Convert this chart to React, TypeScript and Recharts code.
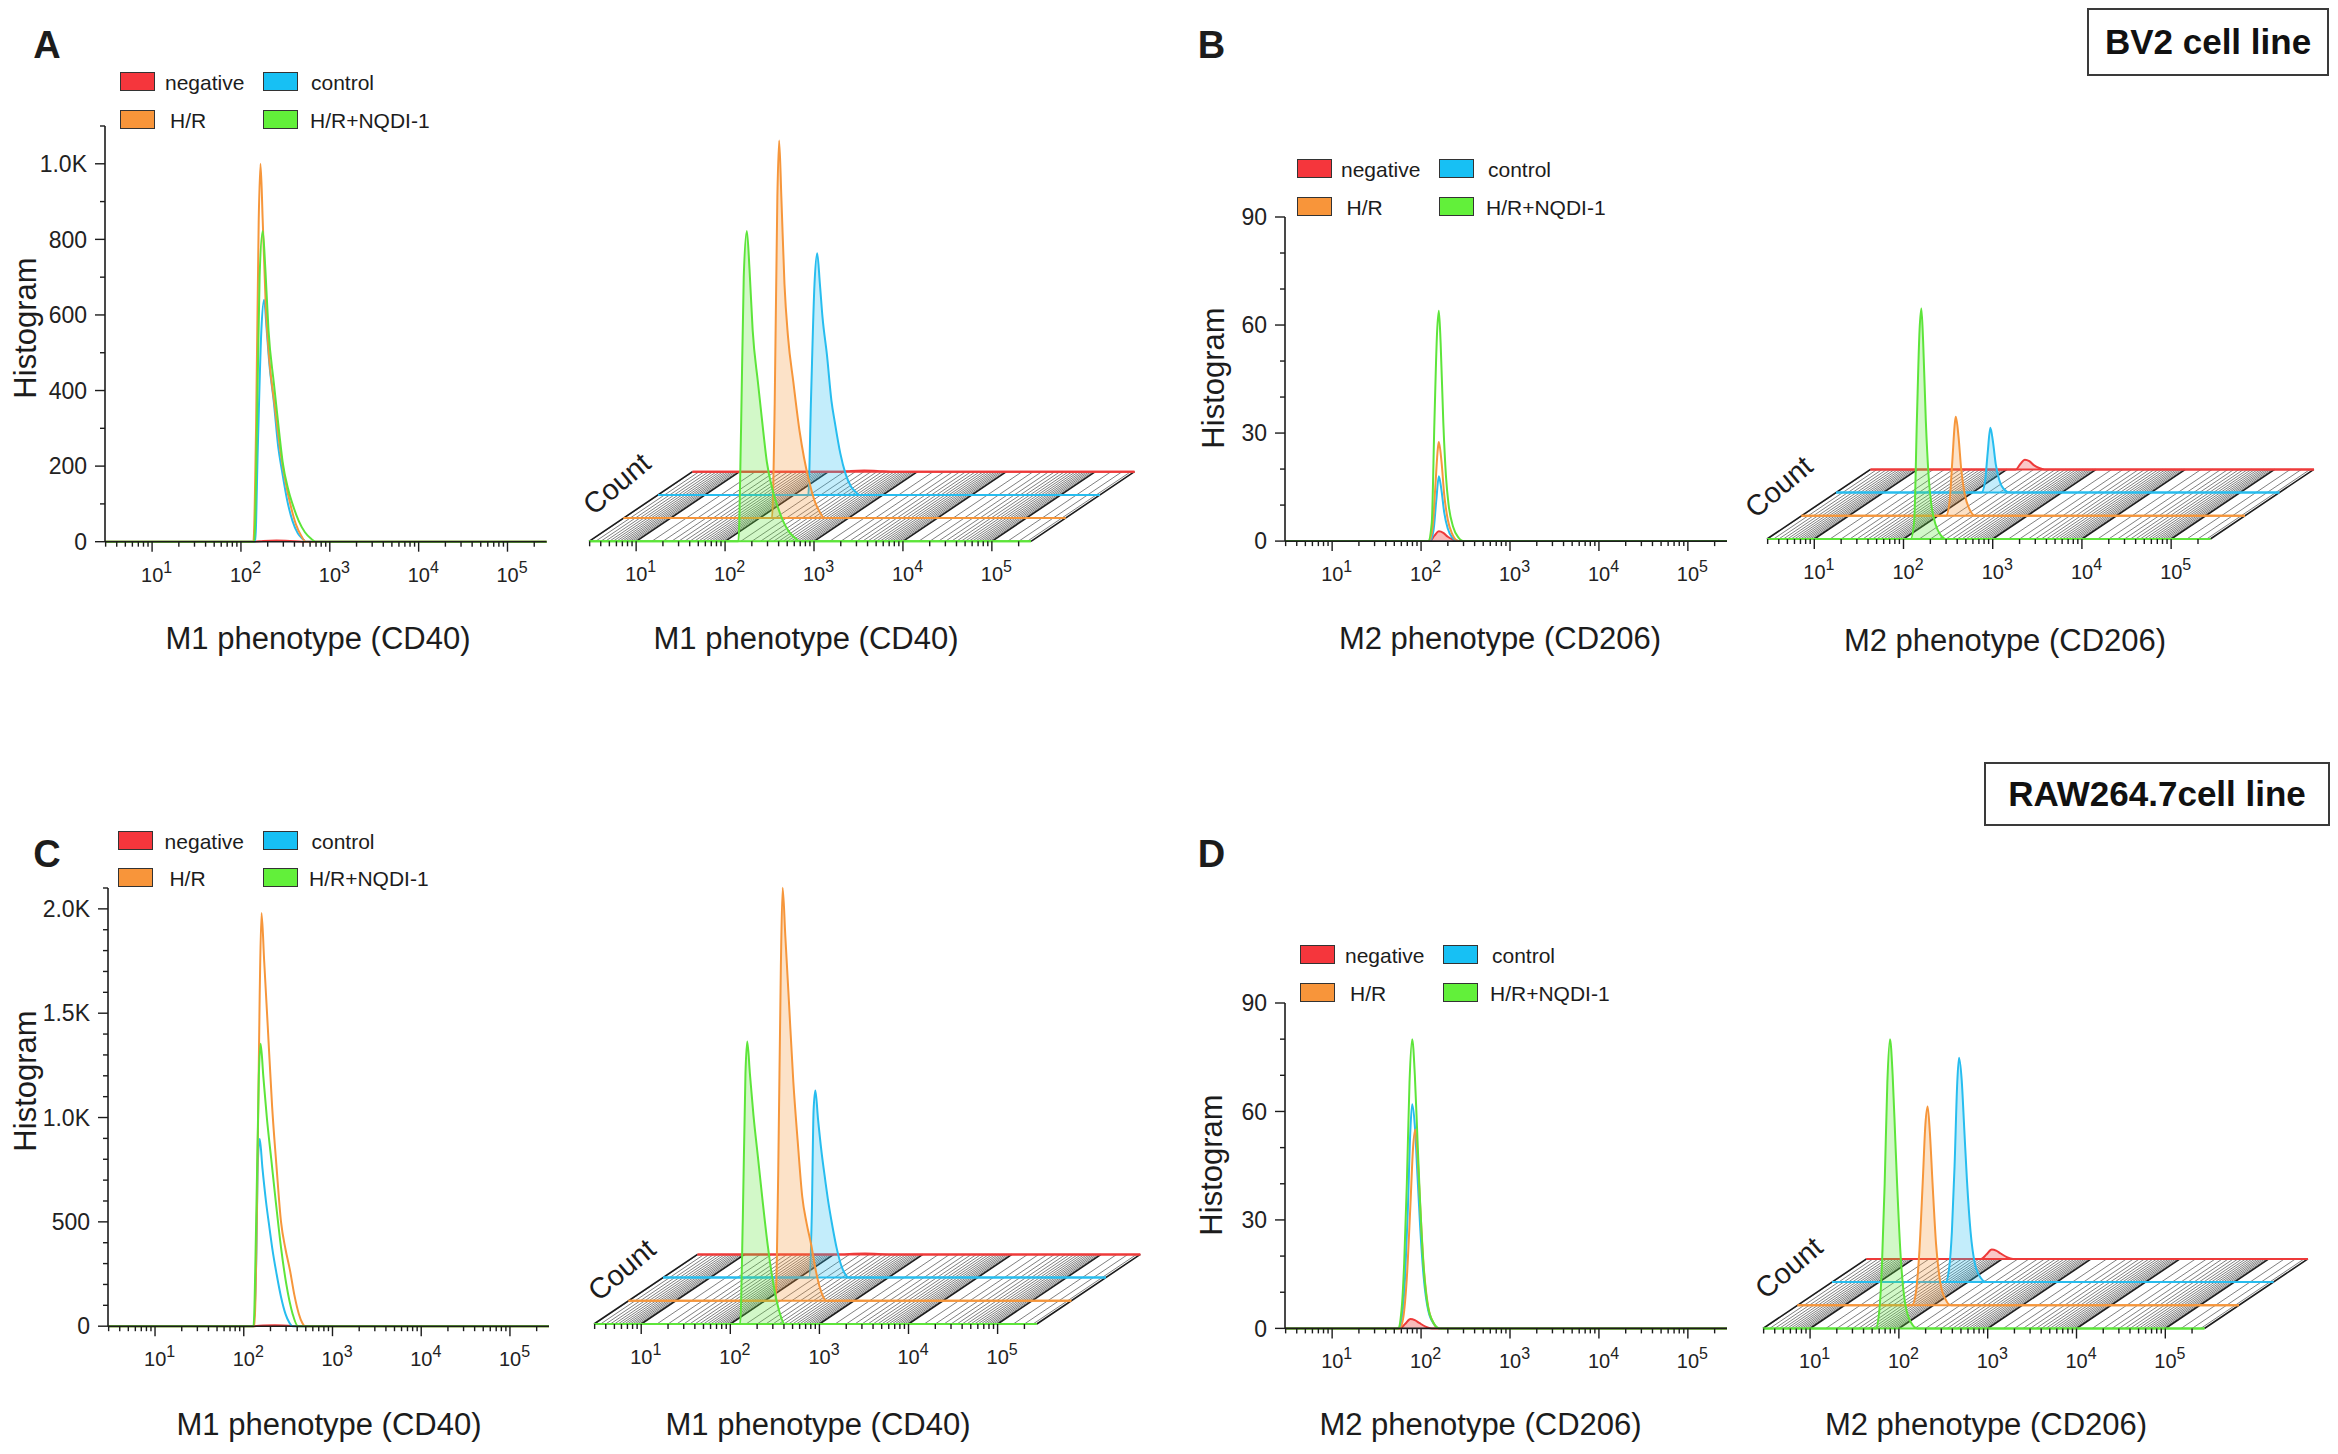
import React from "react";
import { ComposedChart, Area, XAxis, YAxis } from "recharts";

const FONT = "'Liberation Sans', Arial, Helvetica, sans-serif";
const INK = "#1c1c1c";

// fluorescence axis in log10 units (10^0.47 .. 10^5.44)
const LOG_MIN = 0.47;
const LOG_MAX = 5.44;

const SERIES_NAMES = ["negative", "control", "H/R", "H/R+NQDI-1"];
const SERIES_COLORS = ["#EE3A3A", "#27BDEF", "#F6963B", "#5DE53A"];
const SWATCH_COLORS = ["#F5363C", "#17C0F4", "#F8953A", "#62F03A"];
// depth in the offset view: negative at the back, H/R+NQDI-1 in front
const DEPTH_OF = [3, 2, 1, 0];
const DEPTH_X = 34.5; // px per depth step
const DEPTH_Y = 23.2;

// ---- A: BV2, M1 (CD40) ---- [log10 intensity, count]
const A_NEGATIVE = [[2.15, 0], [2.25, 2], [2.4, 3], [2.55, 2], [2.7, 0]];
const A_CONTROL = [[2.16, 0], [2.19, 250], [2.23, 560], [2.26, 640], [2.29, 560], [2.32, 470], [2.37, 370], [2.42, 250], [2.46, 190], [2.52, 110], [2.58, 55], [2.64, 22], [2.7, 6], [2.73, 0]];
const A_HR = [[2.14, 0], [2.17, 300], [2.2, 850], [2.22, 1000], [2.245, 850], [2.28, 620], [2.32, 480], [2.38, 360], [2.45, 230], [2.5, 160], [2.56, 95], [2.62, 45], [2.68, 15], [2.73, 0]];
const A_NQDI = [[2.15, 0], [2.18, 300], [2.21, 700], [2.245, 822], [2.275, 720], [2.31, 560], [2.37, 420], [2.43, 290], [2.47, 210], [2.53, 140], [2.58, 100], [2.65, 55], [2.72, 25], [2.79, 8], [2.84, 0]];
const A_Y_TICKS = [0, 200, 400, 600, 800, 1000];
const A_Y_LABELS = ["0", "200", "400", "600", "800", "1.0K"];

// ---- B: BV2, M2 (CD206) ----
const B_NEGATIVE = [[2.1, 0], [2.15, 1.5], [2.2, 2.7], [2.25, 2.3], [2.3, 1.2], [2.36, 0.4], [2.42, 0]];
const B_CONTROL = [[2.1, 0], [2.14, 3], [2.17, 11], [2.2, 18], [2.23, 14], [2.26, 8], [2.3, 3.5], [2.35, 1], [2.42, 0]];
const B_HR = [[2.09, 0], [2.13, 4], [2.16, 15], [2.19, 26], [2.2, 27.5], [2.23, 22], [2.26, 13], [2.3, 6], [2.35, 2], [2.42, 0]];
const B_NQDI = [[2.08, 0], [2.12, 5], [2.15, 33], [2.18, 58], [2.2, 64], [2.22, 55], [2.25, 33], [2.28, 18], [2.31, 10], [2.36, 4], [2.42, 1], [2.47, 0]];
const B_Y_TICKS = [0, 30, 60, 90];
const B_Y_LABELS = ["0", "30", "60", "90"];

// ---- C: RAW264.7, M1 (CD40) ----
const C_NEGATIVE = [[2.12, 0], [2.22, 3], [2.35, 4], [2.5, 2], [2.65, 0]];
const C_CONTROL = [[2.11, 0], [2.14, 300], [2.16, 800], [2.18, 897], [2.21, 760], [2.25, 600], [2.29, 470], [2.32, 377], [2.37, 250], [2.42, 140], [2.47, 59], [2.51, 20], [2.55, 0]];
const C_HR = [[2.12, 0], [2.15, 600], [2.18, 1600], [2.2, 1980], [2.23, 1750], [2.27, 1440], [2.32, 1050], [2.37, 760], [2.42, 500], [2.47, 370], [2.52, 270], [2.57, 150], [2.62, 60], [2.66, 15], [2.69, 0]];
const C_NQDI = [[2.11, 0], [2.14, 500], [2.17, 1200], [2.19, 1354], [2.22, 1200], [2.26, 1000], [2.31, 800], [2.36, 600], [2.42, 377], [2.48, 200], [2.55, 60], [2.61, 0]];
const C_Y_TICKS = [0, 500, 1000, 1500, 2000];
const C_Y_LABELS = ["0", "500", "1.0K", "1.5K", "2.0K"];

// ---- D: RAW264.7, M2 (CD206) ----
const D_NEGATIVE = [[1.76, 0], [1.82, 1.2], [1.88, 2.6], [1.93, 2.3], [1.98, 1.5], [2.05, 0.5], [2.12, 0]];
const D_CONTROL = [[1.75, 0], [1.79, 4], [1.82, 14], [1.85, 32], [1.88, 55], [1.9, 62], [1.93, 56], [1.96, 42], [1.99, 28], [2.03, 14], [2.08, 5], [2.15, 1], [2.2, 0]];
const D_HR = [[1.76, 0], [1.8, 3], [1.84, 14], [1.88, 34], [1.91, 50], [1.935, 55], [1.96, 48], [1.99, 34], [2.03, 17], [2.08, 6], [2.14, 1.5], [2.2, 0]];
const D_NQDI = [[1.74, 0], [1.78, 5], [1.81, 18], [1.84, 40], [1.87, 68], [1.9, 80], [1.93, 70], [1.96, 52], [1.98, 40], [2.02, 20], [2.07, 7], [2.14, 1.5], [2.21, 0]];
const D_Y_TICKS = [0, 30, 60, 90];
const D_Y_LABELS = ["0", "30", "60", "90"];

// log axis ticks: 1..9 x 10^n
const X_TICKS: number[] = [];
for (let n = 0; n <= 5; n++) {
  for (let k = 1; k <= 9; k++) {
    const v = Math.log10(k * Math.pow(10, n));
    if (v >= LOG_MIN && v <= LOG_MAX) X_TICKS.push(v);
  }
}
// floor hatch of the offset view
const HATCH_MINOR: number[] = [];
const HATCH_MAJOR: number[] = [LOG_MIN, LOG_MAX];
for (let n = 0; n <= 5; n++) {
  for (let k = 1; k < 10; k += 0.5) {
    const v = Math.log10(k * Math.pow(10, n));
    if (v < LOG_MIN || v > LOG_MAX) continue;
    if (k === 1) HATCH_MAJOR.push(v);
    else HATCH_MINOR.push(v);
  }
}

type Panel = {
  letter: string;
  letterPos: [number, number];
  series: number[][][];
  yMax: number;
  yStep: number;
  yTicks: number[];
  yLabels: string[];
  xLabel: string;
  plot2d: { x: number; y: number; w: number; h: number };
  plot3d: { x0: number; x1: number; top: number; base: number };
  histPos: [number, number];
  label2d: [number, number];
  label3d: [number, number];
  countPos: [number, number];
  legend: { cols: [number, number]; rows: [number, number]; text: [[number, number], [number, number]] };
};

const PANELS: Panel[] = [
  {
    letter: "A", letterPos: [47, 45],
    series: [A_NEGATIVE, A_CONTROL, A_HR, A_NQDI],
    yMax: 1100, yStep: 100, yTicks: A_Y_TICKS, yLabels: A_Y_LABELS,
    xLabel: "M1 phenotype (CD40)",
    plot2d: { x: 105.4, y: 126, w: 441.6, h: 415.7 },
    plot3d: { x0: 588.7, x1: 1030.7, top: 125.7, base: 541 },
    histPos: [25, 328], label2d: [318, 638], label3d: [806, 638], countPos: [617, 484],
    legend: { cols: [119.5, 263], rows: [72.4, 110], text: [[165, 311], [170, 310]] },
  },
  {
    letter: "B", letterPos: [1211.5, 45],
    series: [B_NEGATIVE, B_CONTROL, B_HR, B_NQDI],
    yMax: 90, yStep: 10, yTicks: B_Y_TICKS, yLabels: B_Y_LABELS,
    xLabel: "M2 phenotype (CD206)",
    plot2d: { x: 1285, y: 216.7, w: 442, h: 324.1 },
    plot3d: { x0: 1767.3, x1: 2210.7, top: 214.7, base: 538.7 },
    histPos: [1212.5, 378], label2d: [1500, 638], label3d: [2005, 640], countPos: [1779, 487],
    legend: { cols: [1297, 1439], rows: [159, 197], text: [[1341, 1488], [1346.5, 1486]] },
  },
  {
    letter: "C", letterPos: [47, 854],
    series: [C_NEGATIVE, C_CONTROL, C_HR, C_NQDI],
    yMax: 2100, yStep: 100, yTicks: C_Y_TICKS, yLabels: C_Y_LABELS,
    xLabel: "M1 phenotype (CD40)",
    plot2d: { x: 108, y: 887.5, w: 441, h: 438.2 },
    plot3d: { x0: 593.7, x1: 1036.5, top: 886.3, base: 1324.3 },
    histPos: [25, 1081], label2d: [329, 1424], label3d: [818, 1424], countPos: [622, 1270],
    legend: { cols: [118.4, 262.7], rows: [830.8, 867.6], text: [[164.6, 311.5], [169.4, 309]] },
  },
  {
    letter: "D", letterPos: [1211.5, 854],
    series: [D_NEGATIVE, D_CONTROL, D_HR, D_NQDI],
    yMax: 90, yStep: 10, yTicks: D_Y_TICKS, yLabels: D_Y_LABELS,
    xLabel: "M2 phenotype (CD206)",
    plot2d: { x: 1285, y: 1002.6, w: 442, h: 325.4 },
    plot3d: { x0: 1763.4, x1: 2204.8, top: 1003.3, base: 1328.8 },
    histPos: [1211, 1165], label2d: [1480.5, 1424], label3d: [1986, 1424], countPos: [1789, 1268],
    legend: { cols: [1300, 1443], rows: [945, 982.7], text: [[1345, 1492], [1350, 1490]] },
  },
];

function stepTicks(max: number, step: number) {
  const out: number[] = [];
  for (let k = 0; k * step <= max; k++) out.push(k * step);
  return out;
}

function curve2d(src: number[][]) {
  return [{ x: LOG_MIN, y: 0 }, ...src.map(([x, c]) => ({ x, y: c })), { x: LOG_MAX, y: 0 }];
}

function curve3d(src: number[][], depth: number, ddx: number, ddy: number) {
  const b = depth * ddy;
  const s = depth * ddx;
  return [
    { x: LOG_MIN + s, v: [b, b] },
    ...src.map(([x, c]) => ({ x: x + s, v: [b, b + c] })),
    { x: LOG_MAX + s, v: [b, b] },
  ];
}

function hatch(pos: number[], ddx: number, ddy: number) {
  return pos.flatMap((p) => [
    { x: p, y: 0 },
    { x: p + 3 * ddx, y: 3 * ddy },
    { x: p + 3 * ddx, y: null },
  ]);
}

function LogTick(props: any) {
  const { x, y, payload } = props;
  const v = payload.value as number;
  const major = Math.abs(v - Math.round(v)) < 1e-6;
  return (
    <g>
      <line x1={x} x2={x} y1={y} y2={y + (major ? 10 : 5)} stroke={INK} strokeWidth={1.4} />
      {major && (
        <text x={x - 11} y={y + 40} fontSize={20} fontFamily={FONT} fill="#222">
          10
          <tspan dy={-9} fontSize={16}>
            {Math.round(v)}
          </tspan>
        </text>
      )}
    </g>
  );
}

function CountTick(props: any) {
  const { x, y, payload, majors, labels } = props;
  const i = majors.indexOf(payload.value);
  const major = i >= 0;
  return (
    <g>
      <line x1={x - (major ? 10 : 5)} x2={x} y1={y} y2={y} stroke={INK} strokeWidth={1.4} />
      {major && (
        <text x={x - 18} y={y} dy="0.36em" textAnchor="end" fontSize={23} fontFamily={FONT} fill="#222">
          {labels[i]}
        </text>
      )}
    </g>
  );
}

function Hist2D({ p }: { p: Panel }) {
  const { x, y, w, h } = p.plot2d;
  const YW = 120, TOP = 24, RIGHT = 10, XH = 70;
  return (
    <div style={{ position: "absolute", left: x - YW, top: y - TOP }}>
      <ComposedChart width={YW + w + RIGHT} height={TOP + h + XH} margin={{ top: TOP, right: RIGHT, bottom: 0, left: 0 }}>
        <XAxis
          type="number"
          dataKey="x"
          domain={[LOG_MIN, LOG_MAX]}
          ticks={X_TICKS}
          interval={0}
          height={XH}
          tickSize={0}
          tickMargin={0}
          tickLine={false}
          axisLine={{ stroke: INK, strokeWidth: 1.6 }}
          tick={(t: any) => <LogTick {...t} />}
        />
        <YAxis
          type="number"
          domain={[0, p.yMax]}
          ticks={stepTicks(p.yMax, p.yStep)}
          interval={0}
          width={YW}
          tickSize={0}
          tickMargin={0}
          tickLine={false}
          axisLine={{ stroke: INK, strokeWidth: 1.6 }}
          tick={(t: any) => <CountTick {...t} majors={p.yTicks} labels={p.yLabels} />}
        />
        {p.series.map((s, i) => (
          <Area
            key={SERIES_NAMES[i]}
            data={curve2d(s)}
            dataKey="y"
            type="monotone"
            stroke={SERIES_COLORS[i]}
            strokeWidth={2}
            fill={SERIES_COLORS[i]}
            fillOpacity={i === 0 ? 0.35 : 0}
            dot={false}
            activeDot={false}
            isAnimationActive={false}
          />
        ))}
      </ComposedChart>
    </div>
  );
}

function Hist3D({ p }: { p: Panel }) {
  const { x0, x1, top, base } = p.plot3d;
  const h = base - top;
  const pxPerDec = (x1 - x0) / (LOG_MAX - LOG_MIN);
  const ddx = DEPTH_X / pxPerDec;
  const ddy = (DEPTH_Y * p.yMax) / h;
  const plotW = x1 - x0 + 3 * DEPTH_X;
  const PAD = 10, XH = 70;
  return (
    <div style={{ position: "absolute", left: x0 - PAD, top: top - PAD }}>
      <ComposedChart width={plotW + 2 * PAD} height={h + PAD + XH} margin={{ top: PAD, right: PAD, bottom: 0, left: PAD }}>
        <XAxis
          type="number"
          dataKey="x"
          domain={[LOG_MIN, LOG_MAX + 3 * ddx]}
          ticks={X_TICKS}
          interval={0}
          height={XH}
          tickSize={0}
          tickMargin={0}
          tickLine={false}
          axisLine={false}
          tick={(t: any) => <LogTick {...t} />}
        />
        <YAxis hide type="number" domain={[0, p.yMax]} />
        <Area data={hatch(HATCH_MINOR, ddx, ddy)} dataKey="y" type="linear" stroke="#7f7f7f" strokeWidth={1} fill="none" dot={false} activeDot={false} isAnimationActive={false} />
        <Area data={hatch(HATCH_MAJOR, ddx, ddy)} dataKey="y" type="linear" stroke={INK} strokeWidth={1.6} fill="none" dot={false} activeDot={false} isAnimationActive={false} />
        {p.series.map((s, i) => (
          <Area
            key={SERIES_NAMES[i]}
            data={curve3d(s, DEPTH_OF[i], ddx, ddy)}
            dataKey="v"
            type="monotone"
            stroke={SERIES_COLORS[i]}
            strokeWidth={2}
            fill={SERIES_COLORS[i]}
            fillOpacity={0.28}
            dot={false}
            activeDot={false}
            isAnimationActive={false}
          />
        ))}
      </ComposedChart>
    </div>
  );
}

function Txt({ x, y, size, children, bold, rotate = 0, left }: any) {
  return (
    <div
      style={{
        position: "absolute",
        left: x,
        top: y,
        transform: `translate(${left ? "0" : "-50%"}, -50%) rotate(${rotate}deg)`,
        fontSize: size,
        fontFamily: FONT,
        fontWeight: bold ? 700 : 400,
        whiteSpace: "nowrap",
        lineHeight: 1,
        color: INK,
      }}
    >
      {children}
    </div>
  );
}

function LegendBlock({ p }: { p: Panel }) {
  const { cols, rows, text } = p.legend;
  const order = [[0, 1], [2, 3]];
  return (
    <>
      {order.map((row, r) =>
        row.map((si, c) => (
          <React.Fragment key={si}>
            <div
              style={{
                position: "absolute",
                left: cols[c],
                top: rows[r],
                width: 33,
                height: 17,
                background: SWATCH_COLORS[si],
                border: "1.5px solid #333",
              }}
            />
            <Txt x={text[r][c]} y={rows[r] + 10} size={21} left>
              {SERIES_NAMES[si]}
            </Txt>
          </React.Fragment>
        ))
      )}
    </>
  );
}

function CellBox({ x, y, w, h, label }: any) {
  return (
    <div
      style={{
        position: "absolute",
        left: x,
        top: y,
        width: w,
        height: h,
        boxSizing: "border-box",
        border: "2px solid #3a3a3a",
        background: "#fff",
        display: "flex",
        alignItems: "center",
        justifyContent: "center",
        fontFamily: FONT,
        fontWeight: 700,
        fontSize: 35,
        color: "#111",
      }}
    >
      {label}
    </div>
  );
}

export default function App() {
  return (
    <div style={{ position: "absolute", left: 0, top: 0, width: 2338, height: 1454, background: "#fff", overflow: "hidden" }}>
      {PANELS.map((p) => (
        <React.Fragment key={p.letter}>
          <Hist2D p={p} />
          <Hist3D p={p} />
          <Txt x={p.letterPos[0]} y={p.letterPos[1]} size={38} bold>
            {p.letter}
          </Txt>
          <LegendBlock p={p} />
          <Txt x={p.histPos[0]} y={p.histPos[1]} size={31} rotate={-90}>
            Histogram
          </Txt>
          <Txt x={p.label2d[0]} y={p.label2d[1]} size={31}>
            {p.xLabel}
          </Txt>
          <Txt x={p.label3d[0]} y={p.label3d[1]} size={31}>
            {p.xLabel}
          </Txt>
          <Txt x={p.countPos[0]} y={p.countPos[1]} size={29} rotate={-40}>
            Count
          </Txt>
        </React.Fragment>
      ))}
      <CellBox x={2087} y={8} w={242} h={68} label="BV2 cell line" />
      <CellBox x={1984} y={762} w={346} h={64} label="RAW264.7cell line" />
    </div>
  );
}
